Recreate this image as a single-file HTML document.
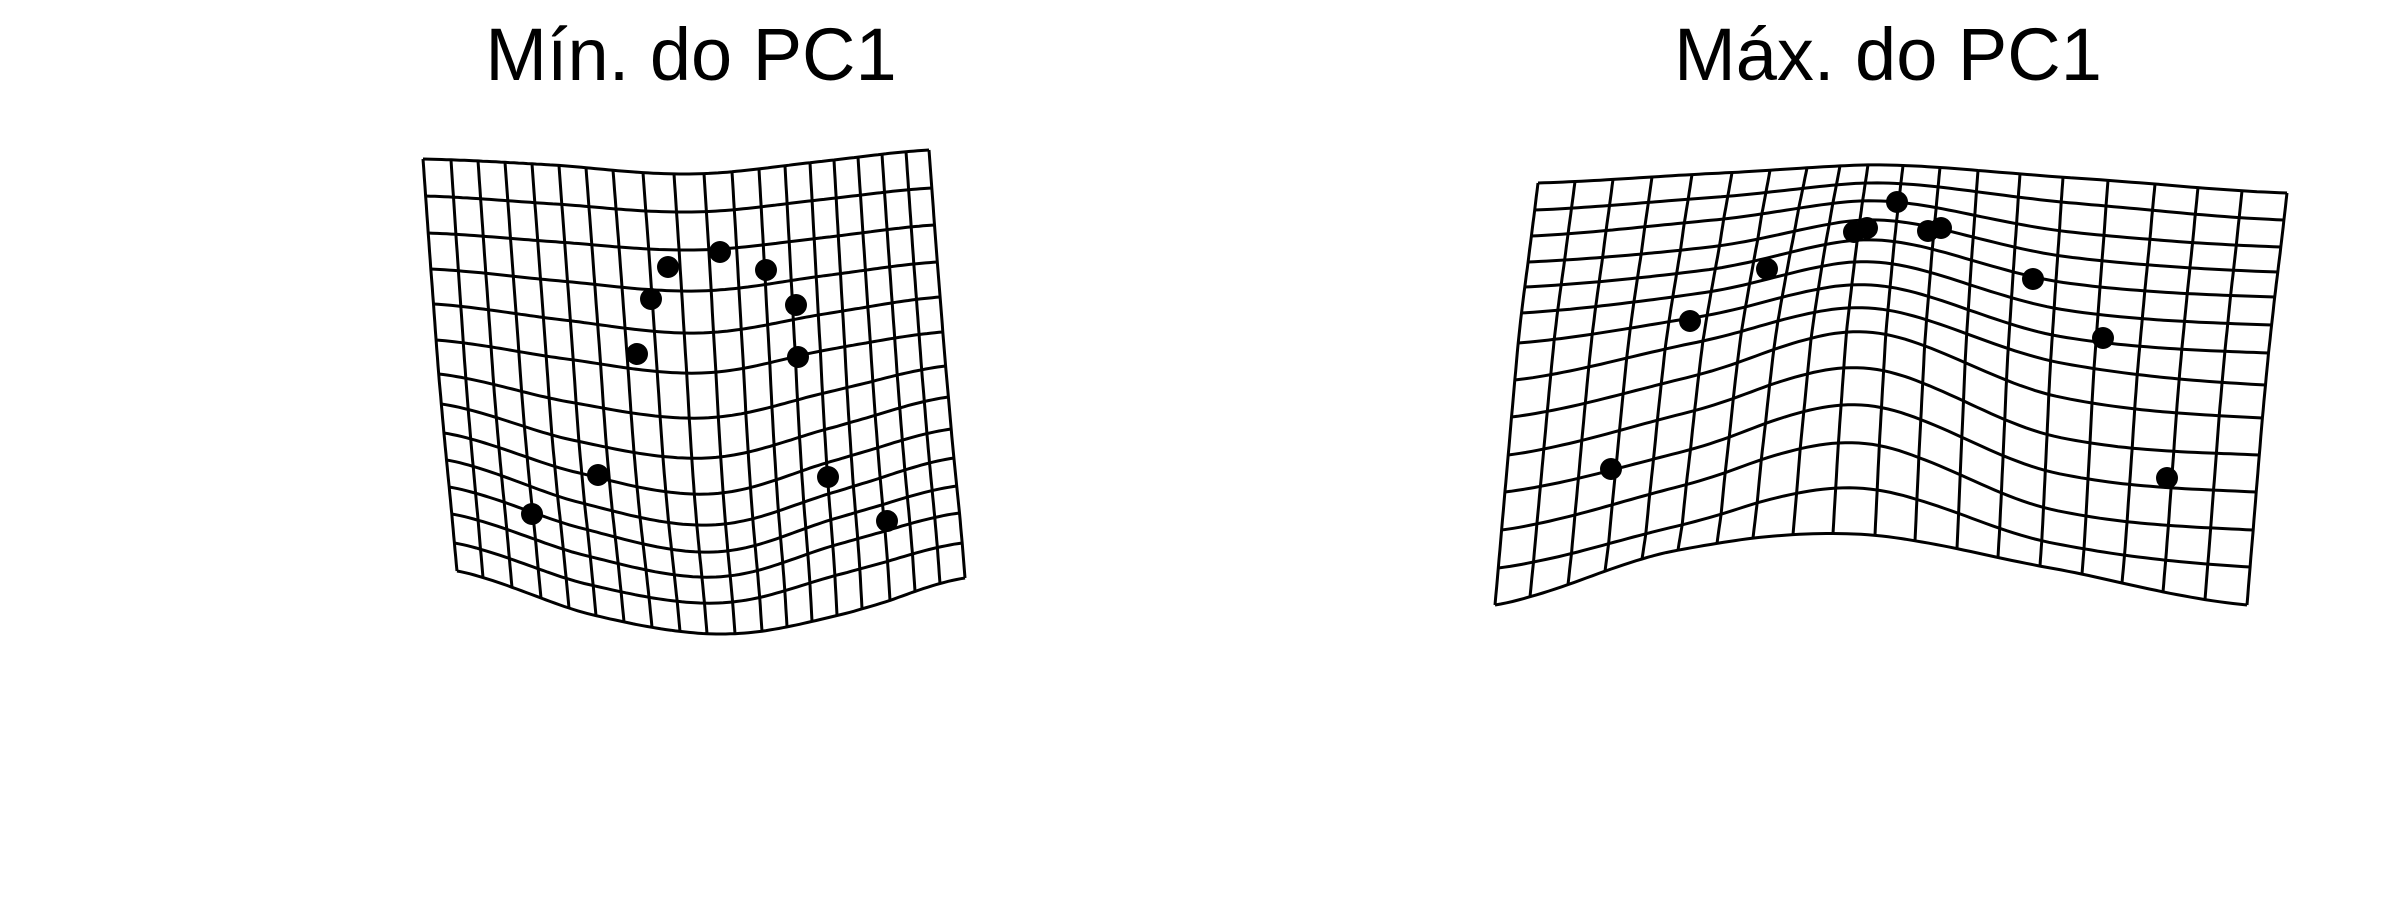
<!DOCTYPE html>
<html><head><meta charset="utf-8"><style>
html,body{margin:0;padding:0;background:#fff;}
svg{display:block;}
</style></head><body>
<svg id="fig" width="2400" height="900" viewBox="0 0 2400 900" xmlns="http://www.w3.org/2000/svg">
<rect width="2400" height="900" fill="#fff"/>
<text x="691" y="80" text-anchor="middle" font-family="Liberation Sans, sans-serif" font-size="74">Mín. do PC1</text>
<text x="1888" y="80" text-anchor="middle" font-family="Liberation Sans, sans-serif" font-size="74">Máx. do PC1</text>
<g id="pL"></g>
<g id="pR"></g>
</svg>
<script>
// Landmark data (shape-space units, y up)
const minLandX = [-0.104,0.104,0.288,-0.172,0.408,-0.228,0.416,-0.384,0.536,-0.648,0.772];
const minLandY = [0.532,0.592,0.520,0.404,0.380,0.184,0.172,-0.300,-0.308,-0.456,-0.484];
const maxLandX = [-0.092,-0.264,-0.212,0.032,0.084,-0.612,0.452,-0.920,0.732,-1.236,0.988];
const maxLandY = [0.792,0.672,0.688,0.676,0.688,0.524,0.484,0.316,0.248,-0.276,-0.312];

// Deformation grid geometry (20 vertical x 14 horizontal lines)
const minTopX = [423,451,478,505,532,559,586,613,643,674,704,732,759,785,810,834,858,882,906,929];
const minBotX = [457,483,512,541,569,596,624,652,680,707,735,762,787,812,837,862,890,915,940,965];
const minRowL = [159,196,233,269,304,340,374,404,433,460,487,514,543,571];
const minRowQ1= [165,204,242,281,320,359,402,440,472,502,528,555,584,614];
const minRowC = [174,212,250,291,333,373,418,458,494,525,552,577,603,634];
const minRowQ3= [162,200,238,276,314,350,392,428,461,492,518,544,574,614];
const minRowR = [150,188,225,262,297,332,366,397,429,458,486,513,543,578];

const maxTopX = [1538,1575,1613,1652,1692,1732,1770,1807,1840,1868,1903,1940,1978,2020,2063,2108,2155,2198,2242,2287];
const maxBotX = [1495,1530,1568,1605,1642,1678,1717,1753,1793,1833,1875,1915,1957,1998,2040,2082,2122,2163,2205,2247];
const maxRowL = [183,210,236,262,287,313,343,380,417,455,492,530,568,605];
const maxRowQ1= [173,197,220,247,270,293,317,343,377,413,452,487,527,552];
const maxRowC = [165,183,201,220,240,262,285,308,332,368,405,443,488,534];
const maxRowQ3= [178,203,232,257,283,310,337,363,397,437,473,510,543,568];
const maxRowR = [193,220,247,272,297,325,353,385,418,455,492,530,567,605];

const NS='http://www.w3.org/2000/svg';
function cr(p,t){
  const n=p.length; let i=Math.min(Math.floor(t),n-2); const f=t-i;
  const p0=p[Math.max(i-1,0)],p1=p[i],p2=p[i+1],p3=p[Math.min(i+2,n-1)];
  return 0.5*((2*p1)+(-p0+p2)*f+(2*p0-5*p1+4*p2-p3)*f*f+(-p0+3*p1-3*p2+p3)*f*f*f);
}
function drawPanel(g,topX,botX,L,Q1,C,Q3,R,lx,ly,cx,cy,k){
  const NU=topX.length, NV=L.length;
  const ptX=(u,v)=>{
    const i=Math.min(Math.floor(u),NU-2), f=u-i;
    const t=topX[i]+(topX[i+1]-topX[i])*f, b=botX[i]+(botX[i+1]-botX[i])*f;
    return t+(b-t)*v/(NV-1);
  };
  const ptY=(u,v)=>{
    const vi=Math.min(Math.floor(v),NV-2), vf=v-vi;
    const ya=cr([L[vi],Q1[vi],C[vi],Q3[vi],R[vi]],u*4/(NU-1));
    const yb=cr([L[vi+1],Q1[vi+1],C[vi+1],Q3[vi+1],R[vi+1]],u*4/(NU-1));
    return ya+(yb-ya)*vf;
  };
  for(let v=0;v<NV;v++){
    let d='';
    for(let s=0;s<=(NU-1)*6;s++){const u=s/6;d+=(s?'L':'M')+ptX(u,v).toFixed(1)+' '+ptY(u,v).toFixed(1);}
    const p=document.createElementNS(NS,'path');
    p.setAttribute('d',d);p.setAttribute('fill','none');p.setAttribute('stroke','#000');p.setAttribute('stroke-width','3');
    
    
    g.appendChild(p);
  }
  for(let u=0;u<NU;u++){
    let d='';
    for(let s=0;s<=(NV-1)*4;s++){const v=s/4;d+=(s?'L':'M')+ptX(u,v).toFixed(1)+' '+ptY(u,v).toFixed(1);}
    const p=document.createElementNS(NS,'path');
    p.setAttribute('d',d);p.setAttribute('fill','none');p.setAttribute('stroke','#000');p.setAttribute('stroke-width','3');
    
    
    g.appendChild(p);
  }
  const sx=x=>cx+x*k, sy=y=>cy-y*k;
  for(let i=0;i<lx.length;i++){
    const c=document.createElementNS(NS,'circle');
    c.setAttribute('cx',sx(lx[i]));c.setAttribute('cy',sy(ly[i]));c.setAttribute('r','11');c.setAttribute('fill','#000');
    
    
    g.appendChild(c);
  }
}
drawPanel(document.getElementById('pL'),minTopX,minBotX,minRowL,minRowQ1,minRowC,minRowQ3,minRowR,minLandX,minLandY,694,400,250);
drawPanel(document.getElementById('pR'),maxTopX,maxBotX,maxRowL,maxRowQ1,maxRowC,maxRowQ3,maxRowR,maxLandX,maxLandY,1920,400,250);
</script>
</body></html>
